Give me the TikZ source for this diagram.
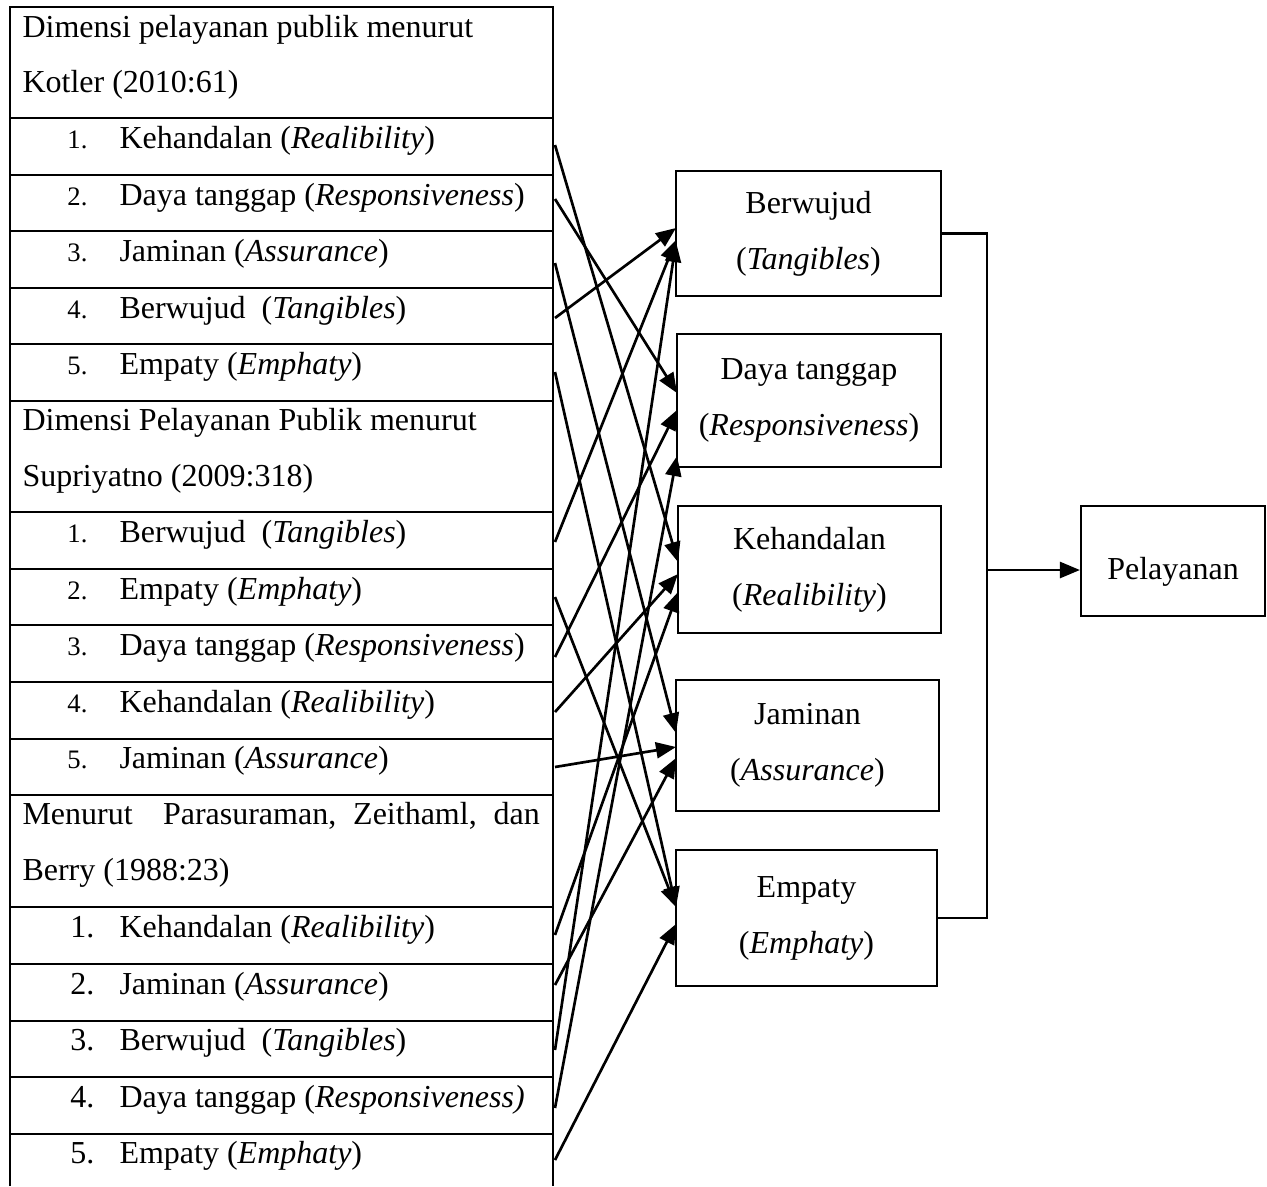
\documentclass[tikz,border=0pt]{standalone}
\usepackage{fontspec}
\setmainfont{Liberation Serif}
\usetikzlibrary{arrows.meta}
\begin{document}
\begin{tikzpicture}[x=0.375pt,y=-0.375pt,
  tl/.style={line width=0.5pt},
  txt/.style={anchor=base west, inner sep=0pt, font=\fontsize{12}{14}\selectfont},
  num/.style={anchor=base east, inner sep=0pt, font=\fontsize{10}{12}\selectfont},
  numL/.style={anchor=base east, inner sep=0pt, font=\fontsize{12}{14}\selectfont},
  box/.style={draw, line width=0.8pt, inner sep=0pt, align=center, font=\fontsize{12}{21}\selectfont},
  link/.style={line width=0.8pt},
  arr/.style={line width=1pt, -{Triangle[length=7.5pt,width=6pt]}}]
\useasboundingbox (0,0) rectangle (1267,1186);
% ---------- table ----------
\draw[tl] (10,1186) -- (10,7) -- (553,7) -- (553,1186);
\foreach \y in {118,175,231,288,344,401,512,569,625,682,739,795,907,964,1021,1077,1134}
  \draw[tl] (10,\y) -- (553,\y);
% header Kotler
\node[txt] (h1a) at (22,37) {Dimensi pelayanan publik menurut};
\node[txt] (h1b) at (22,92) {Kotler (2010:61)};
\node[num] (k1n) at (88,148) {1.};
\node[txt] (k1) at (119,148) {Kehandalan (\textit{Realibility})};
\node[num] (k2n) at (88,205) {2.};
\node[txt] (k2) at (119,205) {Daya tanggap (\textit{Responsiveness})};
\node[num] (k3n) at (88,261) {3.};
\node[txt] (k3) at (119,261) {Jaminan (\textit{Assurance})};
\node[num] (k4n) at (88,318) {4.};
\node[txt] (k4) at (119,318) {Berwujud\ \ (\textit{Tangibles})};
\node[num] (k5n) at (88,374) {5.};
\node[txt] (k5) at (119,374) {Empaty (\textit{Emphaty})};
% header Supriyatno
\node[txt] (h2a) at (22,430) {Dimensi Pelayanan Publik menurut};
\node[txt] (h2b) at (22,486) {Supriyatno (2009:318)};
\node[num] (s1n) at (88,542) {1.};
\node[txt] (s1) at (119,542) {Berwujud\ \ (\textit{Tangibles})};
\node[num] (s2n) at (88,599) {2.};
\node[txt] (s2) at (119,599) {Empaty (\textit{Emphaty})};
\node[num] (s3n) at (88,655) {3.};
\node[txt] (s3) at (119,655) {Daya tanggap (\textit{Responsiveness})};
\node[num] (s4n) at (88,712) {4.};
\node[txt] (s4) at (119,712) {Kehandalan (\textit{Realibility})};
\node[num] (s5n) at (88,768) {5.};
\node[txt] (s5) at (119,768) {Jaminan (\textit{Assurance})};
% header PZB
\node[txt] (h3a) at (22,824) {\makebox[194pt][s]{Menurut\ \ Parasuraman, Zeithaml, dan}};
\node[txt] (h3b) at (22,880) {Berry (1988:23)};
\node[numL] (p1n) at (95,937) {1.};
\node[txt] (p1) at (119,937) {Kehandalan (\textit{Realibility})};
\node[numL] (p2n) at (95,994) {2.};
\node[txt] (p2) at (119,994) {Jaminan (\textit{Assurance})};
\node[numL] (p3n) at (95,1050) {3.};
\node[txt] (p3) at (119,1050) {Berwujud\ \ (\textit{Tangibles})};
\node[numL] (p4n) at (95,1107) {4.};
\node[txt] (p4) at (119,1107) {Daya tanggap (\textit{Responsiveness)}};
\node[numL] (p5n) at (95,1163) {5.};
\node[txt] (p5) at (119,1163) {Empaty (\textit{Emphaty})};
% ---------- right boxes ----------
\node[box, minimum width=99.4pt, minimum height=46.9pt] (bw) at (808.5,233.5) {Berwujud\\(\textit{Tangibles})};
\node[box, minimum width=99pt, minimum height=49.9pt] (dt) at (809,400.5) {Daya tanggap\\(\textit{Responsiveness})};
\node[box, minimum width=98.6pt, minimum height=47.6pt] (kh) at (809.5,569.5) {Kehandalan\\(\textit{Realibility})};
\node[box, minimum width=98.6pt, minimum height=49.1pt] (jm) at (807.5,745.5) {Jaminan\\(\textit{Assurance})};
\node[box, minimum width=97.9pt, minimum height=51pt] (em) at (806.5,918) {Empaty\\(\textit{Emphaty})};
\node[box, minimum width=69pt, minimum height=41.25pt] (pel) at (1173,561) {\raisebox{-4.2pt}[\height][\depth]{Pelayanan}};
% ---------- collector ----------
\coordinate (bus) at (987,570);
\draw[link] (bw.east) -| (bus);
\draw[link] (em.east) -| (bus);
\draw[arr] (bus) -- (bus -| pel.west);
% ---------- arrow starts ----------
\coordinate (k1s) at (555,145);
\coordinate (k2s) at (555,199);
\coordinate (k3s) at (555,263);
\coordinate (k4s) at (555,318);
\coordinate (k5s) at (555,372);
\coordinate (s1s) at (555,542);
\coordinate (s2s) at (555,597);
\coordinate (s3s) at (555,657);
\coordinate (s4s) at (555,712);
\coordinate (s5s) at (555,767);
\coordinate (p1s) at (555,935);
\coordinate (p2s) at (555,985);
\coordinate (p3s) at (555,1050);
\coordinate (p4s) at (555,1108);
\coordinate (p5s) at (555,1160);
% ---------- arrow ends ----------
\coordinate (bwA) at (676,228);
\coordinate (bwB) at (676,240);
\coordinate (bwC) at (676,242);
\coordinate (dtA) at (677,393);
\coordinate (dtB) at (677,410);
\coordinate (dtC) at (677,456);
\coordinate (khA) at (678,562);
\coordinate (khB) at (678,574);
\coordinate (khC) at (678,592);
\coordinate (jmA) at (676,733);
\coordinate (jmB) at (676,747);
\coordinate (jmC) at (676,758);
\coordinate (emA) at (676,907);
\coordinate (emC) at (676,924);
% ---------- arrows ----------
\draw[arr] (k1s) -- (khA);
\draw[arr] (k2s) -- (dtA);
\draw[arr] (k3s) -- (jmA);
\draw[arr] (k4s) -- (bwA);
\draw[arr] (k5s) -- (emA);
\draw[arr] (s1s) -- (bwB);
\draw[arr] (s2s) -- (emA);
\draw[arr] (s3s) -- (dtB);
\draw[arr] (s4s) -- (khB);
\draw[arr] (s5s) -- (jmB);
\draw[arr] (p1s) -- (khC);
\draw[arr] (p2s) -- (jmC);
\draw[arr] (p3s) -- (bwC);
\draw[arr] (p4s) -- (dtC);
\draw[arr] (p5s) -- (emC);
\end{tikzpicture}
\end{document}
